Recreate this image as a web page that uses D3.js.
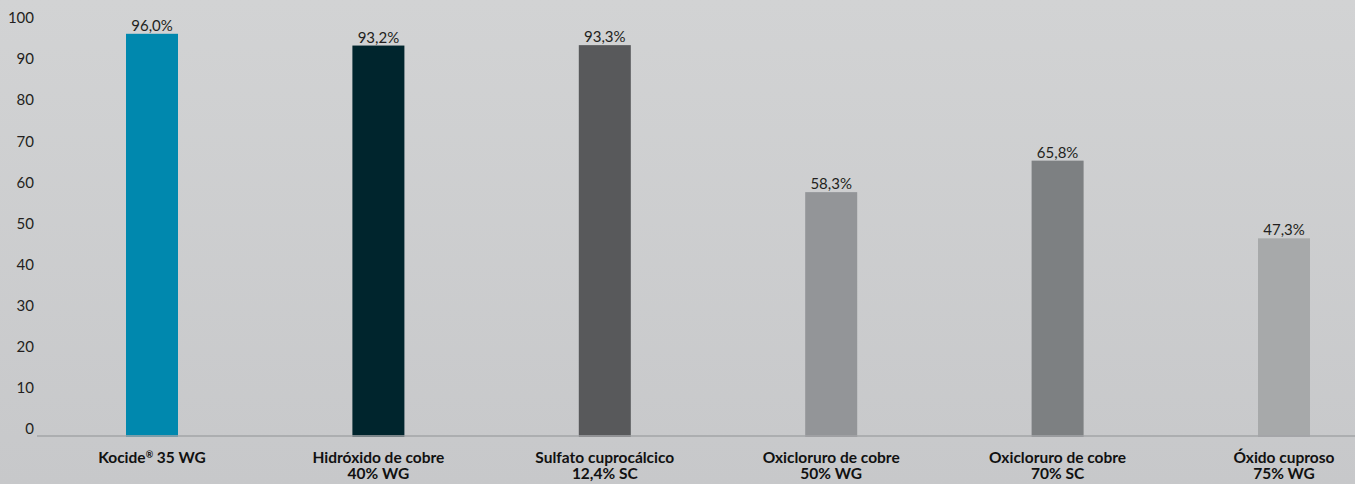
<!DOCTYPE html>
<html>
<head>
	<meta charset="utf-8">
	<title></title>
	<style>
		body { margin: 0; }
		svg { display: block; font-family: Lato, "Open Sans", sans-serif; }
	</style>
</head>
<body>
	<svg id="container" width="1355" height="484"></svg>
</body>
<script type="text/javascript" src="https://cdn.jsdelivr.net/npm/d3@7"></script>
<script>
	// data
	const products = ["Kocide® 35 WG", "Hidróxido de cobre|40% WG", "Sulfato cuprocálcico|12,4% SC",
		"Oxicloruro de cobre|50% WG", "Oxicloruro de cobre|70% SC", "Óxido cuproso|75% WG"]
	const efficacy = [96.0, 93.2, 93.3, 58.3, 65.8, 47.3]
	const barColors = ["#0088ae", "#00252d", "#58595b", "#939598", "#7d8082", "#a7a9aa"]
	const yTicks = [0, 10, 20, 30, 40, 50, 60, 70, 80, 90, 100]

	const width = 1355, height = 484
	let container = d3.select("#container")

	// soft gray background
	let grad = container.append("defs").append("linearGradient")
		.attr("id", "bg").attr("x1", 0).attr("y1", 0).attr("x2", 0).attr("y2", 1)
	grad.append("stop").attr("offset", "0%").attr("stop-color", "#d2d3d4")
	grad.append("stop").attr("offset", "100%").attr("stop-color", "#c7c8ca")
	container.append("rect").attr("width", width).attr("height", height).attr("fill", "url(#bg)")

	let xScale = d3.scalePoint()
		.domain(products)
		.range([152, 1284])

	let yScale = d3.scaleLinear()
		.domain([0, 100])
		.range([437, 17])

	// tick labels sit a little off the value lines in the original
	let tickScale = d3.scaleLinear()
		.domain([0, 100])
		.range([429, 18])

	let data = products.map((p, i) => ({ name: p, value: efficacy[i], color: barColors[i] }))
	const barWidth = 52

	container.append("g")
		.selectAll("rect")
		.data(data)
		.join("rect")
		.attr("x", d => xScale(d.name) - barWidth / 2)
		.attr("y", d => yScale(d.value))
		.attr("width", barWidth)
		.attr("height", d => yScale(0) - yScale(d.value))
		.attr("fill", d => d.color)

	// baseline
	container.append("line")
		.attr("x1", 37).attr("x2", width)
		.attr("y1", yScale(0) - 1).attr("y2", yScale(0) - 1)
		.attr("stroke", "#a3a5a7").attr("stroke-width", 1.5)

	// y tick labels
	container.append("g")
		.selectAll("text")
		.data(yTicks)
		.join("text")
		.attr("x", 34)
		.attr("y", d => tickScale(d))
		.attr("dy", "0.35em")
		.attr("text-anchor", "end")
		.attr("font-size", 15)
		.attr("fill", "#231f20")
		.text(d => d)

	// value labels
	container.append("g")
		.selectAll("text")
		.data(data)
		.join("text")
		.attr("x", d => xScale(d.name))
		.attr("y", d => yScale(d.value) - 3)
		.attr("text-anchor", "middle")
		.attr("font-size", 15)
		.attr("fill", "#231f20")
		.text(d => d3.format(".1f")(d.value).replace(".", ",") + "%")

	// category labels, two lines each
	let cats = container.append("g")
		.selectAll("text")
		.data(data)
		.join("text")
		.attr("x", d => xScale(d.name))
		.attr("y", 463)
		.attr("text-anchor", "middle")
		.attr("font-size", 15.5)
		.attr("font-weight", "bold")
		.attr("fill", "#111")

	cats.each(function(d) {
		let t = d3.select(this)
		d.name.split("|").forEach((line, i) => {
			let ts = t.append("tspan").attr("x", xScale(d.name)).attr("dy", i ? 16 : 0)
			if (line.includes("®")) {
				let parts = line.split("®")
				ts.text(parts[0])
				t.append("tspan").attr("font-size", 9).attr("baseline-shift", "super").text("®")
				t.append("tspan").text(parts[1])
			} else {
				ts.text(line)
			}
		})
	})
</script>
</html>
